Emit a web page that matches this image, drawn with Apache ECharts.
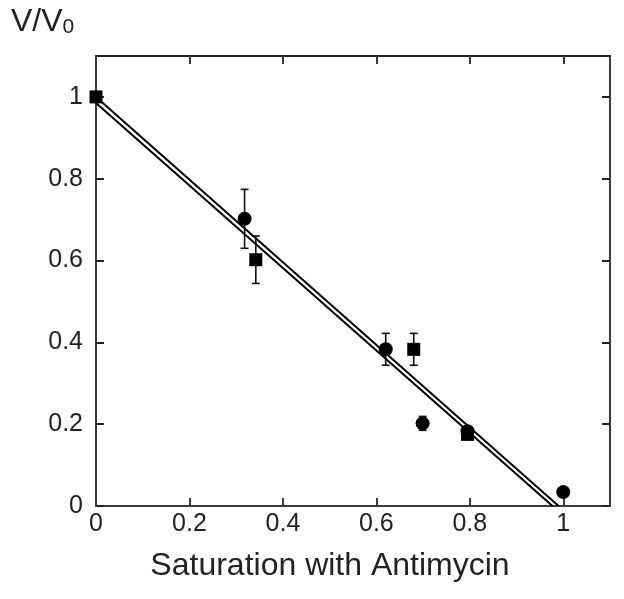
<!DOCTYPE html>
<html>
<head>
<meta charset="utf-8">
<script src="https://cdn.jsdelivr.net/npm/echarts@6/dist/echarts.min.js"></script>
<style>html,body{margin:0;padding:0;background:#fff;}#c{width:624px;height:599px;}</style>
</head>
<body>
<div id="c"></div>
<script>
// Data
var circleX = [0.318, 0.62, 0.699, 0.795, 1.0];
var circleY = [0.702, 0.383, 0.202, 0.183, 0.034];
var circleErr = [0.072, 0.039, 0.017, 0.0, 0.0];
var squareX = [0.0, 0.342, 0.68, 0.795];
var squareY = [1.0, 0.602, 0.383, 0.175];
var squareErr = [0.0, 0.058, 0.039, 0.0];
var fitA = [[0, 1.0], [0.99, 0]];
var fitB = [[0, 0.985], [0.977, 0]];
var xTicks = [0, 0.2, 0.4, 0.6, 0.8, 1];
var yTicks = [0, 0.2, 0.4, 0.6, 0.8, 1];

function pts(xs, ys) { return xs.map(function (x, i) { return [x, ys[i]]; }); }
function errData(xs, ys, es) {
  var out = [];
  xs.forEach(function (x, i) { if (es[i] > 0) out.push([x, ys[i] - es[i], ys[i] + es[i]]); });
  return out;
}
function errRender(params, api) {
  var x = api.value(0), lo = api.value(1), hi = api.value(2);
  var pLo = api.coord([x, lo]), pHi = api.coord([x, hi]);
  var cap = 4;
  var st = { stroke: '#111', lineWidth: 1.6 };
  return {
    type: 'group',
    children: [
      { type: 'line', shape: { x1: pLo[0], y1: pLo[1], x2: pHi[0], y2: pHi[1] }, style: st },
      { type: 'line', shape: { x1: pLo[0] - cap, y1: pLo[1], x2: pLo[0] + cap, y2: pLo[1] }, style: st },
      { type: 'line', shape: { x1: pHi[0] - cap, y1: pHi[1], x2: pHi[0] + cap, y2: pHi[1] }, style: st }
    ]
  };
}

var font = 'Liberation Sans, Arial, Helvetica, sans-serif';
var axisCol = '#3a3a3a';
function fmt(v) { return v === 0 ? '0' : (v === 1 ? '1' : String(v)); }

var chart = echarts.init(document.getElementById('c'), null, { renderer: 'canvas' });
chart.setOption({
  backgroundColor: '#fff',
  animation: false,
  grid: { left: 96, right: 14, top: 56, bottom: 93 },
  xAxis: [{
    type: 'value', min: 0, max: 1.1, interval: 0.2, position: 'bottom',
    axisLine: { show: true, onZero: false, lineStyle: { color: axisCol, width: 2 } },
    axisTick: { show: true, inside: true, length: 8, lineStyle: { color: axisCol, width: 2 },
      customValues: xTicks },
    axisLabel: { fontSize: 25, color: '#222', fontFamily: font, margin: 6,
      customValues: xTicks, formatter: fmt },
    splitLine: { show: false }
  }, {
    type: 'value', min: 0, max: 1.1, interval: 0.2, position: 'top',
    axisLine: { show: true, onZero: false, lineStyle: { color: '#222', width: 2 } },
    axisTick: { show: true, inside: true, length: 8, lineStyle: { color: axisCol, width: 2 },
      customValues: xTicks },
    axisLabel: { show: false },
    splitLine: { show: false }
  }],
  yAxis: [{
    type: 'value', min: 0, max: 1.1, interval: 0.2, position: 'left',
    axisLine: { show: true, onZero: false, lineStyle: { color: axisCol, width: 2 } },
    axisTick: { show: true, inside: true, length: 8, lineStyle: { color: '#222', width: 2 },
      customValues: yTicks },
    axisLabel: { fontSize: 25, color: '#222', fontFamily: font, margin: 13,
      customValues: yTicks, formatter: fmt },
    splitLine: { show: false }
  }, {
    type: 'value', min: 0, max: 1.1, interval: 0.2, position: 'right',
    axisLine: { show: true, onZero: false, lineStyle: { color: axisCol, width: 2 } },
    axisTick: { show: true, inside: true, length: 8, lineStyle: { color: '#222', width: 2 },
      customValues: yTicks },
    axisLabel: { show: false },
    splitLine: { show: false }
  }],
  graphic: [{
    type: 'text', left: 11, top: 6,
    style: {
      text: '{a|V/V}{b|0}',
      rich: {
        a: { fontSize: 32, fontFamily: font, fill: '#222', verticalAlign: 'bottom', lineHeight: 34 },
        b: { fontSize: 21, fontFamily: font, fill: '#222', verticalAlign: 'bottom', lineHeight: 34 }
      }
    }
  }, {
    type: 'text', x: 330, y: 566,
    style: { text: 'Saturation with Antimycin', fontSize: 32, fontFamily: font, fill: '#222',
      align: 'center', verticalAlign: 'middle' }
  }],
  series: [{
    type: 'line', data: fitA, showSymbol: false, symbol: 'none',
    lineStyle: { color: '#000', width: 2 }, z: 2
  }, {
    type: 'line', data: fitB, showSymbol: false, symbol: 'none',
    lineStyle: { color: '#000', width: 2 }, z: 2
  }, {
    type: 'custom', renderItem: errRender, data: errData(circleX, circleY, circleErr),
    encode: { x: 0, y: [1, 2] }, z: 3
  }, {
    type: 'custom', renderItem: errRender, data: errData(squareX, squareY, squareErr),
    encode: { x: 0, y: [1, 2] }, z: 3
  }, {
    type: 'scatter', data: pts(circleX, circleY), symbol: 'circle', symbolSize: 14,
    itemStyle: { color: '#000', opacity: 1 }, z: 4
  }, {
    type: 'scatter', data: pts(squareX, squareY), symbol: 'rect', symbolSize: 13,
    itemStyle: { color: '#000', opacity: 1 }, z: 4
  }]
});
</script>
</body>
</html>
